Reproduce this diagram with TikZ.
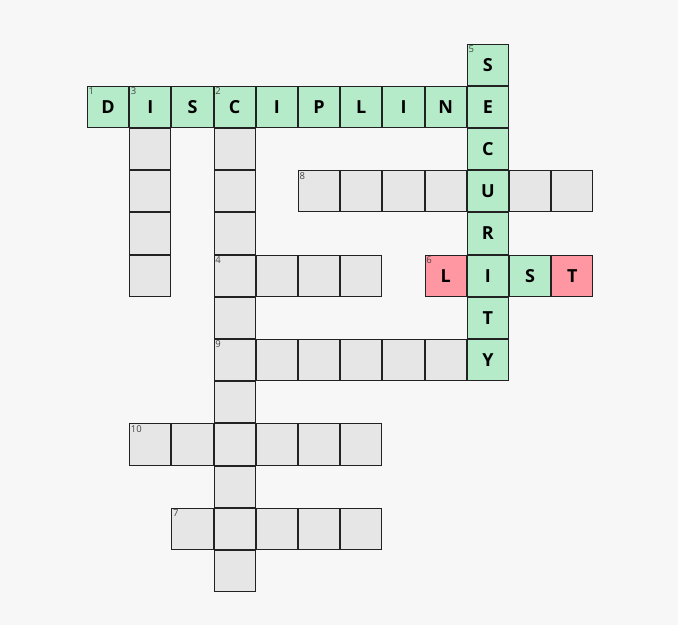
\documentclass[tikz,border=0pt]{standalone}
\usepackage{fontspec}
\setmainfont{Open Sans}
\definecolor{bg}{HTML}{F7F7F7}
\definecolor{okfill}{HTML}{B5EBC8}
\definecolor{badfill}{HTML}{FF97A3}
\definecolor{emptyfill}{HTML}{E6E6E6}
\definecolor{edgec}{HTML}{222222}
\definecolor{numc}{HTML}{444444}
\tikzset{
  cell/.style={draw=edgec, line width=1pt, minimum size=41.2pt, inner sep=0pt, outer sep=0pt,
    anchor=center, font=\fontsize{18}{19}\selectfont\bfseries, text=black},
  okcell/.style={cell, fill=okfill},
  badcell/.style={cell, fill=badfill},
  blank/.style={cell, fill=emptyfill},
  num/.style={anchor=north west, inner sep=0pt, font=\fontsize{9.5}{10}\selectfont, text=numc}
}
\newcommand{\gx}[1]{87+21.1+42.2*#1}
\newcommand{\gy}[1]{43.5+21.1+42.2*#1}
\begin{document}
\begin{tikzpicture}[x=1pt,y=-1pt]
\fill[bg] (0,0) rectangle (678,625);
\useasboundingbox (0,0) rectangle (678,625);
% blank cells
\foreach \r/\c in {2/1,3/1,4/1,5/1,
  2/3,3/3,4/3,5/3,6/3,7/3,8/3,9/3,10/3,11/3,12/3,
  3/5,3/6,3/7,3/8,3/10,3/11,
  5/4,5/5,5/6,
  7/4,7/5,7/6,7/7,7/8,
  9/1,9/2,9/4,9/5,9/6,
  11/2,11/4,11/5,11/6}
  \node[blank] (c\r-\c) at ({\gx{\c}},{\gy{\r}}) {};
% DISCIPLINE
\foreach \L [count=\i from 0] in {D,I,S,C,I,P,L,I,N,E}
  \node[okcell] (c1-\i) at ({\gx{\i}},{\gy{1}}) {\L};
% SECURITY (without E already placed)
\foreach \r/\L in {0/S,2/C,3/U,4/R,5/I,6/T,7/Y}
  \node[okcell] (c\r-9) at ({\gx{9}},{\gy{\r}}) {\L};
% LIST
\node[badcell] (c5-8) at ({\gx{8}},{\gy{5}}) {L};
\node[okcell] (c5-10) at ({\gx{10}},{\gy{5}}) {S};
\node[badcell] (c5-11) at ({\gx{11}},{\gy{5}}) {T};
% clue numbers
\foreach \r/\c/\n in {1/0/1,1/1/3,1/3/2,0/9/5,3/5/8,5/3/4,5/8/6,7/3/9,9/1/10,11/2/7}
  \node[num] (n\n) at ([shift={(1,1.5)}]c\r-\c.north west) {\n};
\end{tikzpicture}
\end{document}
